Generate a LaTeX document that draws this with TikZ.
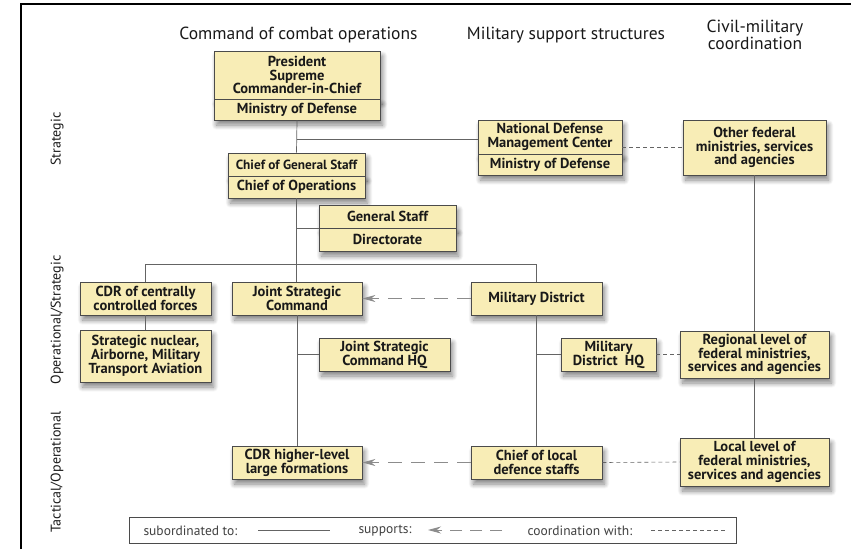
\documentclass[tikz,border=0pt]{standalone}
\usepackage{fontspec}
\setmainfont{PT Sans}
\usepackage{xcolor}
\usepackage{tikz}
\usetikzlibrary{arrows.meta,shadows.blur}

\definecolor{boxfill}{RGB}{248,237,182}
\definecolor{boxline}{RGB}{75,75,75}
\definecolor{linkgray}{RGB}{100,100,100}

\tikzset{
  unit/.style={draw=boxline, line width=0.8pt, fill=boxfill, align=center, inner sep=0pt,
    font=\fontsize{14.5}{13.8}\selectfont\bfseries, text=black!90,
    blur shadow={shadow xshift=2.5pt, shadow yshift=-5pt, shadow blur radius=5pt,
      shadow blur steps=10, shadow opacity=50}},
  head/.style={font=\fontsize{17.5}{17}\selectfont, text=black!90, align=center},
  level/.style={font=\fontsize{14}{14}\selectfont, text=black!90, rotate=90},
  legendtext/.style={font=\fontsize{13.5}{13.5}\selectfont, text=black!75, anchor=west},
  subline/.style={draw=linkgray, line width=0.7pt},
  suppline/.style={draw=black!45, line width=0.9pt, dash pattern=on 14pt off 9pt,
    -{Stealth[length=13pt,width=7pt,fill=black!45]}},
  coordline/.style={draw=linkgray, line width=0.6pt, dash pattern=on 4pt off 3pt},
}

\begin{document}
\begin{tikzpicture}[x=1pt, y=-1pt]

\useasboundingbox (0,0) rectangle (851,549);
\draw[line width=1.4pt] (21,549) -- (21,4) -- (851,4);

% column headings
\node[head] (hcmd) at (298.5,35) {Command of combat operations};
\node[head] (hsup) at (566,35) {Military support structures};
\node[head] (hciv) at (755,34.5) {Civil-military\\coordination};

% levels
\foreach \y/\t in {139/Strategic, 320/{Operational/Strategic}, 472/{Tactical/Operational}}
{
	\node[level] (lvl\y) at (57,\y) {\t};
}

% command of combat operations
\node[unit, minimum width=166, minimum height=48] (pres) at (297,75) {President\\Supreme\\Commander-in-Chief};
\node[unit, minimum width=166, minimum height=21] (pmod) at (297,109.5) {Ministry of Defense};
\node[unit, minimum width=137, minimum height=23, font=\fontsize{13.3}{13}\selectfont\bfseries] (cgs) at (296.5,164.5) {Chief of General Staff};
\node[unit, minimum width=137, minimum height=22] (cops) at (296.5,187) {Chief of Operations};
\node[unit, minimum width=137, minimum height=23] (gs) at (387.5,216.5) {General Staff};
\node[unit, minimum width=137, minimum height=23] (dir) at (387.5,239.5) {Directorate};
\node[unit, minimum width=131, minimum height=33] (cdr) at (145.5,298.5) {CDR of centrally\\controlled forces};
\node[unit, minimum width=131, minimum height=52] (snuc) at (145.5,356) {Strategic nuclear,\\Airborne, Military\\Transport Aviation};
\node[unit, minimum width=130, minimum height=33] (jsc) at (297,298.5) {Joint Strategic\\Command};
\node[unit, minimum width=131, minimum height=33] (jschq) at (384.5,354.5) {Joint Strategic\\Command HQ};
\node[unit, minimum width=130, minimum height=33] (cdrh) at (297,462.5) {CDR higher-level\\large formations};

% military support structures
\node[unit, minimum width=144, minimum height=34] (ndmc) at (550,137) {National Defense\\Management Center};
\node[unit, minimum width=144, minimum height=21] (nmod) at (550,164.5) {Ministry of Defense};
\node[unit, minimum width=131, minimum height=33] (md) at (536.5,298.5) {Military District};
\node[unit, minimum width=95, minimum height=33] (mdhq) at (608.5,354.5) {Military\\District\ \ HQ};
\node[unit, minimum width=131, minimum height=33] (clds) at (536.5,462.5) {Chief of local\\defence staffs};

% civil-military coordination
\node[unit, minimum width=143, minimum height=55] (ofed) at (754.5,147.5) {Other federal\\ministries, services\\and agencies};
\node[unit, minimum width=149, minimum height=47] (reg) at (754.5,354.5) {Regional level of\\federal ministries,\\services and agencies};
\node[unit, minimum width=149, minimum height=48] (loc) at (754.5,462) {Local level of\\federal ministries,\\services and agencies};

% subordination
\draw[subline] (pmod.south) -- (cgs.north);
\coordinate (ndmcj) at (297,139);
\draw[subline] (ndmcj) -- (ndmcj -| ndmc.west);
\draw[subline] (cops.south) -- (cops.south |- jsc.north);
\draw[subline] (gs.south west -| cops.south) -- (gs.south west);
\draw[subline] (cdr.north) -- ++(0,-17) -| (md.north);
\draw[subline] (cdr.south) -- (snuc.north);
\draw[subline] (jsc.south) -- (cdrh.north);
\draw[subline] (jschq.west -| jsc.south) -- (jschq.west);
\draw[subline] (md.south) -- (clds.north);
\draw[subline] (mdhq.west -| md.south) -- (mdhq.west);
\draw[subline] (ofed.south) -- (reg.north);
\draw[subline] (reg.south) -- (loc.north);

% support
\draw[suppline] (md.west) -- (jsc.east);
\draw[suppline] (clds.west) -- (cdrh.east);

% coordination
\draw[coordline] (ndmc.east |- ofed.west) -- (ofed.west);
\draw[coordline] (mdhq.east) -- (reg.west);
\draw[coordline] (clds.east) -- (loc.west);

% legend
\node[draw=boxline, line width=0.6pt, minimum width=607, minimum height=26, inner sep=0pt] (legend) at (432.5,530) {};
\node[legendtext] (lsub) at (140,530.5) {subordinated to:};
\node[legendtext] (lsupp) at (355,530.5) {supports:};
\node[legendtext] (lcoord) at (524,530.5) {coordination with:};
\draw[subline] (258,530) -- (330,530);
\draw[suppline, dash pattern=on 12pt off 8pt] (502,530) -- (428,530);
\draw[coordline] (651,530) -- (725,530);

\end{tikzpicture}
\end{document}
